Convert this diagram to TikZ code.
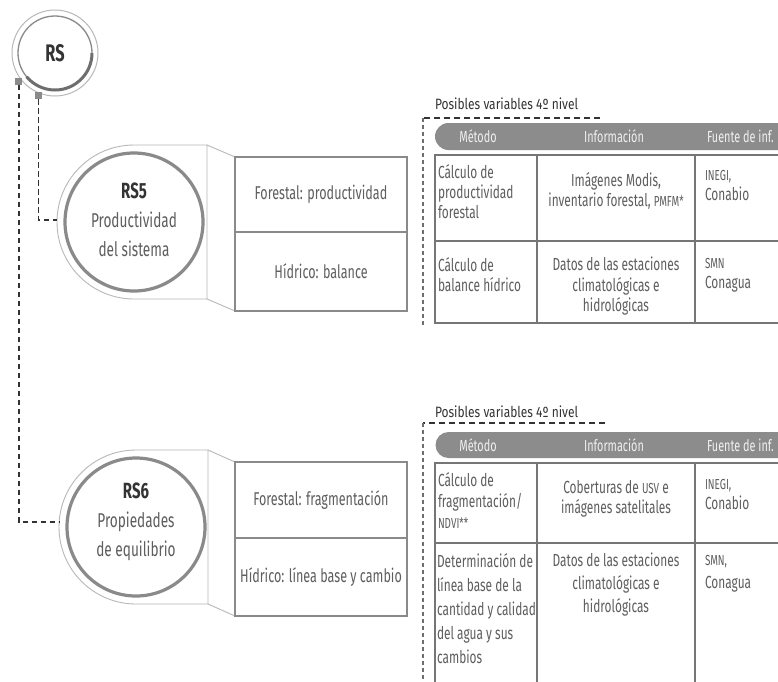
\documentclass[tikz,border=0pt]{standalone}
\usepackage{fontspec}
\setmainfont{Fira Sans}[FakeStretch=0.68]
\newfontfamily\lblfont{Fira Sans}[FakeStretch=0.8]
\usetikzlibrary{calc}
\definecolor{txt}{HTML}{5E5E5E}
\definecolor{dark}{HTML}{333333}
\definecolor{ring}{HTML}{8A8A8A}
\definecolor{ringdk}{HTML}{6E6E6E}
\definecolor{lite}{HTML}{B8B8B8}
\definecolor{hdr}{HTML}{8C8C8C}
\definecolor{rule}{HTML}{767676}
\newcommand\tinycaps[1]{{\fontsize{14.5}{12}\selectfont #1}}
\begin{document}
\begin{tikzpicture}[x=1pt,y=-1pt,
  every node/.style={inner sep=0pt, outer sep=0pt},
  conn/.style={draw=dark, line width=1.5pt, dash pattern=on 5.5pt off 3.5pt},
  vdash/.style={draw=ringdk, line width=1.2pt, dash pattern=on 4pt off 3pt},
  hdash/.style={draw=dark, line width=1.3pt, dash pattern=on 6pt off 4pt},
  tline/.style={draw=rule, line width=1.3pt},
  outline/.style={draw=lite, line width=0.9pt},
  bigc/.style={circle, minimum size=154pt, align=center, text=txt,
               font=\fontsize{20}{29}\selectfont},
  celltxt/.style={text=txt, font=\fontsize{18.5}{19}\selectfont},
  tabtxt/.style={text=txt, anchor=north west, align=left, font=\fontsize{17.5}{20}\selectfont},
  tabmid/.style={text=txt, anchor=north, align=center, font=\fontsize{17.5}{20.5}\selectfont},
  hdrtxt/.style={text=white!94!black, font=\fontsize{16}{16}\selectfont},
  lbl/.style={text=dark, anchor=west, font=\lblfont\fontsize{15}{15}\selectfont},
  sq/.style={fill=ring, minimum size=7pt}]
\useasboundingbox (0,0) rectangle (778,681);
\clip (0,0) rectangle (778,681);
\fill[white] (0,0) rectangle (778,681);

% ---------- RS ----------
\node[circle, minimum size=92pt, text=dark, font=\fontsize{24}{24}\selectfont\bfseries] (RS) at (55,53) {RS};
\draw[lite, line width=1pt] (RS.center) circle[radius=43];
\draw[ring, line width=1.3pt] (RS.center) circle[radius=37];
\draw[ringdk, line width=3pt] ($(RS.center)+(37,0)$) arc[start angle=0, end angle=140, radius=37];

% ---------- RS5 ----------
\node[bigc] (RS5) at (134,220) {{\fontsize{22}{29}\selectfont\bfseries\color{dark}RS5}\\Productividad\\del sistema};
\draw[outline] (134,145) arc[start angle=-90, end angle=-270, radius=77] -- (207,299) -- (207,145) -- cycle;
\draw[ring, line width=3.2pt] (134,222) circle[radius=69];
\draw[outline] (207,145) -- (235,157);
\draw[outline] (207,299) -- (235,311);
\draw[ring, line width=2.8pt] (235,157) rectangle (407,311);
\draw[ring, line width=1.5pt] (235,232) -- (407,232);
\node[celltxt] (F5) at (321,194.5) {Forestal: productividad};
\node[celltxt] (H5) at (321,271.5) {Hídrico: balance};

% ---------- RS6 ----------
\node[bigc] (RS6) at (136,522) {{\fontsize{22}{29}\selectfont\bfseries\color{dark}RS6}\\Propiedades\\de equilibrio};
\draw[outline] (136,450) arc[start angle=-90, end angle=-270, radius=77] -- (208,604) -- (208,450) -- cycle;
\draw[ring, line width=3.2pt] (136,527) circle[radius=69];
\draw[outline] (208,450) -- (235,462);
\draw[outline] (208,604) -- (235,616);
\draw[ring, line width=2.8pt] (235,462) rectangle (407,616);
\draw[ring, line width=1.5pt] (235,538) -- (407,538);
\node[celltxt] (F6) at (321,500) {Forestal: fragmentación};
\node[celltxt] (H6) at (321,577) {Hídrico: línea base y cambio};

% ---------- connectors ----------
\node[sq] (sq1) at (RS.218) {};
\node[sq] (sq2) at (RS.249) {};
\draw[conn] (sq1.south) |- (RS6.west);
\draw[conn] (sq2.south) |- (RS5.west);

% ---------- Table 1 ----------
\node[lbl] (L1) at (435,104) {Posibles variables 4º nivel};
\draw[hdash] (600,118) -- (423,118);
\draw[vdash] (423,118) -- (423,325);
\fill[hdr] (790,123) -- (448.5,123) arc[start angle=-90, end angle=-270, radius=13.5] -- (790,150) -- cycle;
\node[hdrtxt] (M1) at (478,136.5) {Método};
\node[hdrtxt] (I1) at (614,136.5) {Información};
\node[hdrtxt, anchor=west] (S1) at (707,136.5) {Fuente de inf.};
\draw[tline] (790,155) -- (435,155) -- (435,323) -- (790,323);
\draw[tline] (435,241) -- (790,241);
\draw[tline] (537,155) -- (537,323);
\draw[tline] (695,155) -- (695,323);
\node[tabtxt] (a11) at (438,164) {Cálculo de\\productividad\\forestal};
\node[tabmid] (a12) at (616,172) {Imágenes Modis,\\inventario forestal, \tinycaps{PMFM*}};
\node[tabtxt] (a13) at (705,170) {\tinycaps{INEGI,}\\Conabio};
\node[tabtxt] (a21) at (438,257) {Cálculo de\\balance hídrico};
\node[tabmid] (a22) at (616,257) {Datos de las estaciones\\climatológicas e\\hidrológicas};
\node[tabtxt] (a23) at (705,258) {\tinycaps{SMN}\\Conagua};

% ---------- Table 2 ----------
\node[lbl] (L2) at (435,412) {Posibles variables 4º nivel};
\draw[hdash] (605,423) -- (423,423);
\draw[vdash] (423,423) -- (423,681);
\fill[hdr] (790,432) -- (448.5,432) arc[start angle=-90, end angle=-270, radius=13] -- (790,458) -- cycle;
\node[hdrtxt] (M2) at (478,445) {Método};
\node[hdrtxt] (I2) at (614,445) {Información};
\node[hdrtxt, anchor=west] (S2) at (707,445) {Fuente de inf.};
\draw[tline] (790,463) -- (435,463) -- (435,690);
\draw[tline] (435,543) -- (790,543);
\draw[tline] (537,463) -- (537,690);
\draw[tline] (695,463) -- (695,690);
\node[tabtxt, font=\fontsize{17.5}{21}\selectfont] (b11) at (438,472) {Cálculo de\\fragmentación/\\\tinycaps{NDVI**}};
\node[tabmid] (b12) at (616,480) {Coberturas de \tinycaps{USV} e\\imágenes satelitales};
\node[tabtxt] (b13) at (705,479) {\tinycaps{INEGI,}\\Conabio};
\node[tabtxt, font=\fontsize{17.5}{24}\selectfont] (b21) at (437,553) {Determinación de\\línea base de la\\cantidad y calidad\\del agua y sus\\cambios};
\node[tabmid, font=\fontsize{17.5}{23}\selectfont] (b22) at (616,553) {Datos de las estaciones\\climatológicas e\\hidrológicas};
\node[tabtxt, font=\fontsize{17.5}{23}\selectfont] (b23) at (705,555) {\tinycaps{SMN,}\\Conagua};
\end{tikzpicture}
\end{document}
